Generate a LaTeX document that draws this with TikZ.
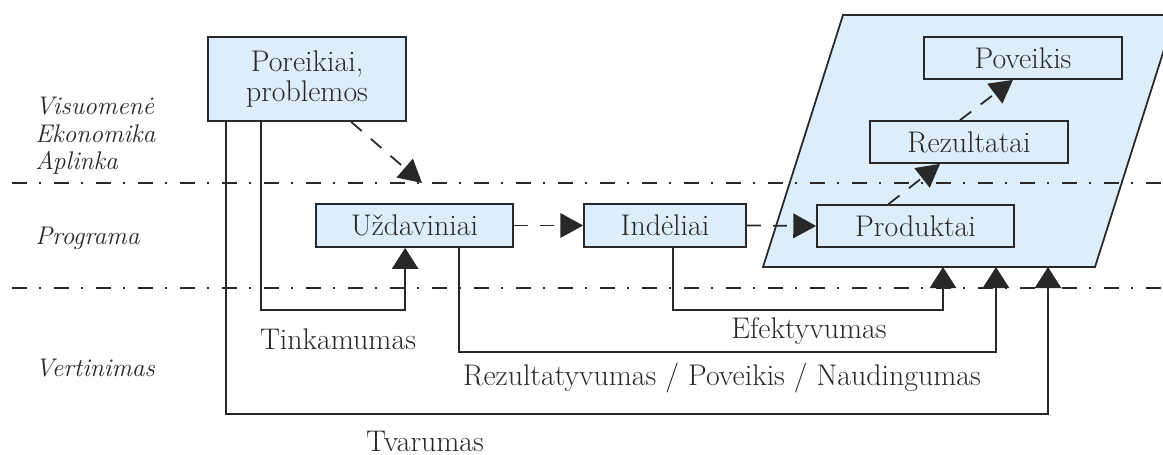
\documentclass[tikz,border=0pt]{standalone}
\usepackage{xcolor}
\usetikzlibrary{arrows.meta,calc,positioning}

\definecolor{boxblue}{RGB}{221,238,250}
\definecolor{ink}{RGB}{40,40,40}

\tikzset{
    txt/.style={font=\fontsize{17}{17.5}\selectfont, text=ink},
    side/.style={font=\fontsize{14.5}{15.5}\selectfont\itshape, text=ink, anchor=west, align=left, inner sep=0pt},
    box/.style={txt, draw=ink, line width=1pt, fill=boxblue, inner sep=0pt, minimum height=0.84cm},
    level/.style={ink, line width=0.8pt, dash pattern=on 0.3cm off 0.24cm on 0.04cm off 0.26cm},
    dasharr/.style={ink, line width=1pt, dash pattern=on 0.28cm off 0.24cm, -{Triangle[length=13pt,width=14pt]}},
    solidarr/.style={ink, line width=1pt, -{Triangle[length=12pt,width=15pt]}},
}

\begin{document}
\begin{tikzpicture}[x=0.02cm, y=-0.02cm]
    \useasboundingbox (0,0) rectangle (1163,455);

    % outcome area
    \fill[boxblue, draw=ink, line width=1pt] (843,15) -- (1175,15) -- (1095,267) -- (763,267) -- cycle;

    % level separators
    \draw[level] (12,183) -- (1163,183);
    \draw[level] (12,288) -- (1163,288);

    % level names
    \node[side] (soc) at (35,136) {Visuomenė\\Ekonomika\\Aplinka};
    \node[side] (prg) at (35,238) {Programa};
    \node[side] (ver) at (35,368) {Vertinimas};

    % boxes
    \node[box, minimum width=3.96cm, minimum height=1.68cm, align=center] (por) at (307,79) {Poreikiai,\\problemos};
    \node[box, minimum width=3.94cm, minimum height=0.86cm] (uzd) at (414.5,225.5) {Uždaviniai};
    \node[box, minimum width=3.24cm, minimum height=0.86cm] (ind) at (665,225.5) {Indėliai};
    \node[box, minimum width=3.94cm] (prod) at (915.5,226) {Produktai};
    \node[box, minimum width=3.96cm] (rez) at (969,142) {Rezultatai};
    \node[box, minimum width=3.96cm] (pov) at (1023,58) {Poveikis};

    % dashed flow
    \coordinate (goal) at (422,183);
    \draw[dasharr] ($(por.south west)+(144,0)$) -- (goal);
    \draw[dasharr] (uzd.east) -- (ind.west);
    \draw[dasharr] (ind.east) -- (prod.west);
    \draw[dasharr] ($(prod.north)+(-27,0)$) -- ($(rez.south)+(-29,0)$);
    \draw[dasharr] ($(rez.north)+(-9,0)$) -- ($(pov.south)+(-10,0)$);

    % evaluation criteria
    \coordinate (t1) at (943,267);
    \coordinate (t2) at (996,267);
    \coordinate (t3) at (1048,267);

    \draw[solidarr] ($(por.south west)+(54,0)$) -- ++(0,188) -| ($(uzd.south west)+(90,0)$);
    \draw[solidarr] ($(ind.south)+(8,0)$) -- ++(0,62) -| (t1);
    \draw[solidarr] ($(uzd.south)+(44.5,0)$) -- ++(0,104) -| (t2);
    \draw[solidarr] ($(por.south west)+(19,0)$) -- ++(0,292) -| (t3);

    \node[txt] (tink) at (338,339) {Tinkamumas};
    \node[txt] (efek) at (809,331) {Efektyvumas};
    \node[txt] (rzv) at (722,378) {Rezultatyvumas / Poveikis / Naudingumas};
    \node[txt] (tvar) at (425,441) {Tvarumas};
\end{tikzpicture}
\end{document}
